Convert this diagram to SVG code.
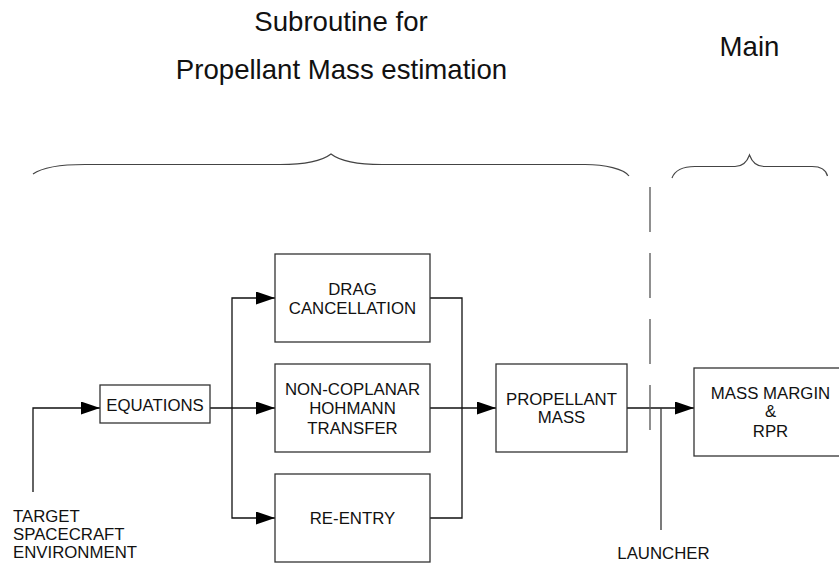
<svg xmlns="http://www.w3.org/2000/svg" width="839" height="563" viewBox="0 0 839 563">
<style>
.box{fill:#fff;stroke:#333;stroke-width:1.3}
.t{font-family:"Liberation Sans",Arial,sans-serif;font-size:16.8px;fill:#111;text-anchor:middle}
.tl{font-family:"Liberation Sans",Arial,sans-serif;font-size:16.8px;fill:#111}
.title{font-family:"Liberation Sans",Arial,sans-serif;font-size:27.6px;fill:#111;text-anchor:middle}
.ln{fill:none;stroke:#111;stroke-width:1.3}
.br{fill:none;stroke:#444;stroke-width:1.2}
</style>
<defs>
<marker id="ah" markerUnits="userSpaceOnUse" markerWidth="20" markerHeight="14" refX="19" refY="6.5" orient="auto">
<path d="M0,0 L19,6.5 L0,13 Z" fill="#000"/>
</marker>
</defs>
<g id="titles">
<text class="title" x="341" y="31">Subroutine for</text>
<text class="title" x="341.5" y="79">Propellant Mass estimation</text>
<text class="title" x="749.5" y="56">Main</text>
</g>
<g id="braces">
<path class="br" d="M33,174 C45,165.5 68,164.5 85,164.5 L280,164.5 C305,164.5 322,161 331,154 C340,161 357,164.5 382,164.5 L585,164.5 C605,164.5 624,169 629,176"/>
<path class="br" d="M672,178 C675,170 682,166.5 695,166.5 L735,166.5 C742,166.5 747,162 749.5,155 C752,162 757,166.5 764,166.5 L812,166.5 C822,166.5 826,170 827.5,176"/>
</g>
<g id="connectors">
<path class="ln" d="M33,492 V408 H100" marker-end="url(#ah)"/>
<path class="ln" d="M210,408 H275" marker-end="url(#ah)"/>
<path class="ln" d="M232,408 V298 H275" marker-end="url(#ah)"/>
<path class="ln" d="M232,408 V518 H275" marker-end="url(#ah)"/>
<path class="ln" d="M430,298 H462 V518 H430"/>
<path class="ln" d="M430,408 H496" marker-end="url(#ah)"/>
<path class="ln" d="M627,408 H694" marker-end="url(#ah)"/>
<path class="ln" d="M661,530 V408" style="stroke:#333"/>
<path class="ln" d="M650,187 V430" style="stroke:#555;stroke-dasharray:45 21"/>
</g>
<g id="equations">
<rect class="box" x="100" y="385" width="110" height="38"/>
<text class="t" x="155" y="411">EQUATIONS</text>
</g>
<g id="drag">
<rect class="box" x="275" y="254" width="155" height="88"/>
<text class="t" x="352.5" y="295">DRAG</text>
<text class="t" x="352.5" y="313.5">CANCELLATION</text>
</g>
<g id="hohmann">
<rect class="box" x="275" y="364" width="155" height="88"/>
<text class="t" x="352.5" y="395">NON-COPLANAR</text>
<text class="t" x="352.5" y="414">HOHMANN</text>
<text class="t" x="352.5" y="433.5">TRANSFER</text>
</g>
<g id="reentry">
<rect class="box" x="275" y="474" width="155" height="88"/>
<text class="t" x="352.5" y="523.5">RE-ENTRY</text>
</g>
<g id="propellant">
<rect class="box" x="496" y="364" width="131" height="88"/>
<text class="t" x="561.5" y="404.5">PROPELLANT</text>
<text class="t" x="561.5" y="423">MASS</text>
</g>
<g id="massmargin">
<rect class="box" x="694" y="368" width="160" height="88"/>
<text class="t" x="770.5" y="398.5">MASS MARGIN</text>
<text class="t" x="770.5" y="417">&amp;</text>
<text class="t" x="770.5" y="437">RPR</text>
</g>
<g id="target">
<text class="tl" x="13" y="522">TARGET</text>
<text class="tl" x="13" y="539.5">SPACECRAFT</text>
<text class="tl" x="13" y="557.5">ENVIRONMENT</text>
</g>
<g id="launcher">
<text class="t" x="663.5" y="559">LAUNCHER</text>
</g>
</svg>
